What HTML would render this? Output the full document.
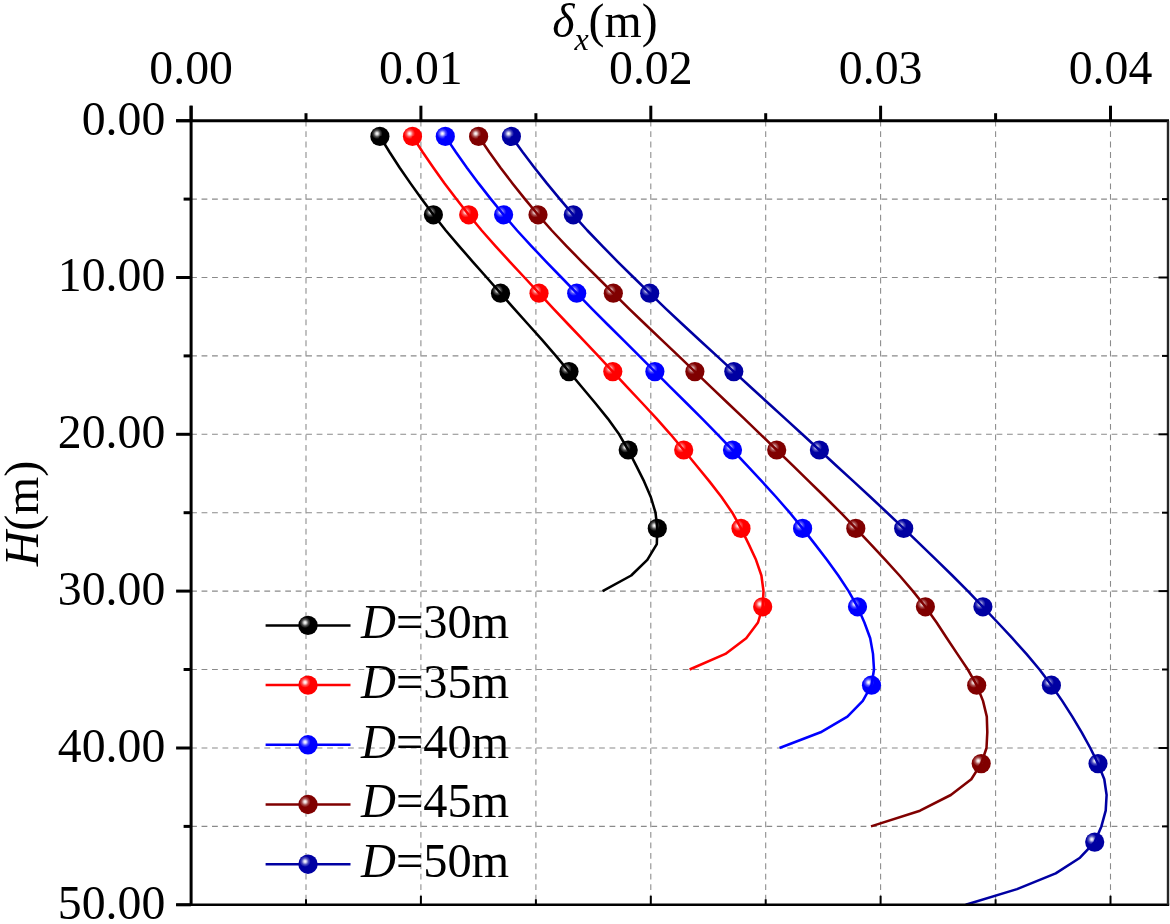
<!DOCTYPE html>
<html lang="en">
<head>
<meta charset="utf-8">
<title>Horizontal displacement versus depth</title>
<style>
html,body{margin:0;padding:0;background:#fff;}
body{width:1170px;height:924px;overflow:hidden;}
svg{display:block;}
text{font-family:"Liberation Serif",serif;fill:#000;}
.t{font-size:47.8px;}
.i{font-style:italic;}
</style>
</head>
<body>
<svg width="1170" height="924" viewBox="0 0 1170 924">
<defs>
<radialGradient id="hl" cx="0.5" cy="0.5" r="0.5"><stop offset="0" stop-color="#fff" stop-opacity="1"/><stop offset="0.22" stop-color="#fff" stop-opacity="0.85"/><stop offset="0.6" stop-color="#fff" stop-opacity="0.3"/><stop offset="1" stop-color="#fff" stop-opacity="0"/></radialGradient>
</defs>
<rect width="1170" height="924" fill="#fff"/>
<g stroke="#8c8c8c" stroke-width="1.08" stroke-dasharray="5.8 4.66" fill="none">
<line x1="306.0" y1="120.7" x2="306.0" y2="904.8"/>
<line x1="420.9" y1="120.7" x2="420.9" y2="904.8"/>
<line x1="535.9" y1="120.7" x2="535.9" y2="904.8"/>
<line x1="650.8" y1="120.7" x2="650.8" y2="904.8"/>
<line x1="765.7" y1="120.7" x2="765.7" y2="904.8"/>
<line x1="880.6" y1="120.7" x2="880.6" y2="904.8"/>
<line x1="995.6" y1="120.7" x2="995.6" y2="904.8"/>
<line x1="1110.5" y1="120.7" x2="1110.5" y2="904.8"/>
</g>
<g stroke="#8a8a8a" stroke-width="1.08" stroke-dasharray="5.8 4.66" fill="none">
<line x1="191.1" y1="199.1" x2="1168.0" y2="199.1"/>
<line x1="191.1" y1="277.5" x2="1168.0" y2="277.5"/>
<line x1="191.1" y1="355.9" x2="1168.0" y2="355.9"/>
<line x1="191.1" y1="434.3" x2="1168.0" y2="434.3"/>
<line x1="191.1" y1="512.7" x2="1168.0" y2="512.7"/>
<line x1="191.1" y1="591.1" x2="1168.0" y2="591.1"/>
<line x1="191.1" y1="669.5" x2="1168.0" y2="669.5"/>
<line x1="191.1" y1="748.0" x2="1168.0" y2="748.0"/>
<line x1="191.1" y1="826.4" x2="1168.0" y2="826.4"/>
</g>
<circle cx="379.9" cy="136.4" r="9.6" fill="#000000"/><circle cx="377.0" cy="133.6" r="5.5" fill="url(#hl)"/>
<circle cx="433.4" cy="214.8" r="9.6" fill="#000000"/><circle cx="430.5" cy="212.0" r="5.5" fill="url(#hl)"/>
<circle cx="500.5" cy="293.2" r="9.6" fill="#000000"/><circle cx="497.6" cy="290.4" r="5.5" fill="url(#hl)"/>
<circle cx="569.0" cy="371.6" r="9.6" fill="#000000"/><circle cx="566.1" cy="368.8" r="5.5" fill="url(#hl)"/>
<circle cx="628.2" cy="450.0" r="9.6" fill="#000000"/><circle cx="625.3" cy="447.2" r="5.5" fill="url(#hl)"/>
<circle cx="657.3" cy="528.4" r="9.6" fill="#000000"/><circle cx="654.4" cy="525.6" r="5.5" fill="url(#hl)"/>
<path d="M379.9 136.4 L389.5 152.0 L399.7 167.7 L410.5 183.4 L421.7 199.1 L433.4 214.8 L445.8 230.5 L459.1 246.1 L472.8 261.8 L486.7 277.5 L500.5 293.2 L514.3 308.9 L528.3 324.5 L542.3 340.2 L555.9 355.9 L569.0 371.6 L582.0 387.3 L595.2 403.0 L607.8 418.6 L619.1 434.3 L628.2 450.0 L636.2 465.7 L644.1 481.4 L650.8 497.0 L655.5 512.7 L657.3 528.4 L656.8 544.1 L647.3 559.8 L631.2 575.5 L602.6 591.1" fill="none" stroke="#000000" stroke-width="2.55" stroke-linejoin="round"/>
<circle cx="412.5" cy="136.4" r="9.6" fill="#ff0000"/><circle cx="409.6" cy="133.6" r="5.5" fill="url(#hl)"/>
<circle cx="468.7" cy="214.8" r="9.6" fill="#ff0000"/><circle cx="465.8" cy="212.0" r="5.5" fill="url(#hl)"/>
<circle cx="539.0" cy="293.2" r="9.6" fill="#ff0000"/><circle cx="536.1" cy="290.4" r="5.5" fill="url(#hl)"/>
<circle cx="612.8" cy="371.6" r="9.6" fill="#ff0000"/><circle cx="609.9" cy="368.8" r="5.5" fill="url(#hl)"/>
<circle cx="683.7" cy="450.0" r="9.6" fill="#ff0000"/><circle cx="680.8" cy="447.2" r="5.5" fill="url(#hl)"/>
<circle cx="741.0" cy="528.4" r="9.6" fill="#ff0000"/><circle cx="738.1" cy="525.6" r="5.5" fill="url(#hl)"/>
<circle cx="762.7" cy="606.8" r="9.6" fill="#ff0000"/><circle cx="759.8" cy="604.0" r="5.5" fill="url(#hl)"/>
<path d="M412.5 136.4 L422.6 152.0 L433.4 167.7 L444.6 183.4 L456.4 199.1 L468.7 214.8 L481.7 230.5 L495.5 246.1 L509.9 261.8 L524.5 277.5 L539.0 293.2 L553.6 308.9 L568.4 324.5 L583.3 340.2 L598.2 355.9 L612.8 371.6 L627.4 387.3 L642.1 403.0 L656.6 418.6 L670.5 434.3 L683.7 450.0 L696.6 465.7 L709.4 481.4 L721.5 497.0 L732.3 512.7 L741.0 528.4 L748.7 544.1 L756.0 559.8 L761.4 575.5 L763.5 591.1 L762.7 606.8 L758.0 622.5 L746.2 638.2 L725.4 653.9 L689.6 669.5" fill="none" stroke="#ff0000" stroke-width="2.55" stroke-linejoin="round"/>
<circle cx="445.3" cy="136.4" r="9.6" fill="#0000ff"/><circle cx="442.4" cy="133.6" r="5.5" fill="url(#hl)"/>
<circle cx="503.6" cy="214.8" r="9.6" fill="#0000ff"/><circle cx="500.7" cy="212.0" r="5.5" fill="url(#hl)"/>
<circle cx="576.7" cy="293.2" r="9.6" fill="#0000ff"/><circle cx="573.8" cy="290.4" r="5.5" fill="url(#hl)"/>
<circle cx="654.9" cy="371.6" r="9.6" fill="#0000ff"/><circle cx="652.0" cy="368.8" r="5.5" fill="url(#hl)"/>
<circle cx="732.5" cy="450.0" r="9.6" fill="#0000ff"/><circle cx="729.6" cy="447.2" r="5.5" fill="url(#hl)"/>
<circle cx="802.6" cy="528.4" r="9.6" fill="#0000ff"/><circle cx="799.7" cy="525.6" r="5.5" fill="url(#hl)"/>
<circle cx="857.5" cy="606.8" r="9.6" fill="#0000ff"/><circle cx="854.6" cy="604.0" r="5.5" fill="url(#hl)"/>
<circle cx="871.5" cy="685.2" r="9.6" fill="#0000ff"/><circle cx="868.6" cy="682.4" r="5.5" fill="url(#hl)"/>
<path d="M445.3 136.4 L455.8 152.0 L466.9 167.7 L478.6 183.4 L490.9 199.1 L503.6 214.8 L517.1 230.5 L531.4 246.1 L546.3 261.8 L561.5 277.5 L576.7 293.2 L592.0 308.9 L607.6 324.5 L623.4 340.2 L639.2 355.9 L654.9 371.6 L670.6 387.3 L686.4 403.0 L702.1 418.6 L717.5 434.3 L732.5 450.0 L747.2 465.7 L761.9 481.4 L776.1 497.0 L789.8 512.7 L802.6 528.4 L814.9 544.1 L826.9 559.8 L838.3 575.5 L848.6 591.1 L857.5 606.8 L864.4 622.5 L870.2 638.2 L873.0 653.9 L874.0 669.5 L871.5 685.2 L862.8 700.9 L847.4 716.6 L820.6 732.3 L779.5 748.0" fill="none" stroke="#0000ff" stroke-width="2.55" stroke-linejoin="round"/>
<circle cx="478.6" cy="136.4" r="9.6" fill="#800000"/><circle cx="475.7" cy="133.6" r="5.5" fill="url(#hl)"/>
<circle cx="538.0" cy="214.8" r="9.6" fill="#800000"/><circle cx="535.1" cy="212.0" r="5.5" fill="url(#hl)"/>
<circle cx="613.3" cy="293.2" r="9.6" fill="#800000"/><circle cx="610.4" cy="290.4" r="5.5" fill="url(#hl)"/>
<circle cx="694.9" cy="371.6" r="9.6" fill="#800000"/><circle cx="692.0" cy="368.8" r="5.5" fill="url(#hl)"/>
<circle cx="776.7" cy="450.0" r="9.6" fill="#800000"/><circle cx="773.8" cy="447.2" r="5.5" fill="url(#hl)"/>
<circle cx="855.8" cy="528.4" r="9.6" fill="#800000"/><circle cx="852.9" cy="525.6" r="5.5" fill="url(#hl)"/>
<circle cx="925.4" cy="606.8" r="9.6" fill="#800000"/><circle cx="922.5" cy="604.0" r="5.5" fill="url(#hl)"/>
<circle cx="976.7" cy="685.2" r="9.6" fill="#800000"/><circle cx="973.8" cy="682.4" r="5.5" fill="url(#hl)"/>
<circle cx="981.2" cy="763.6" r="9.6" fill="#800000"/><circle cx="978.3" cy="760.8" r="5.5" fill="url(#hl)"/>
<path d="M478.6 136.4 L489.2 152.0 L500.5 167.7 L512.5 183.4 L525.0 199.1 L538.0 214.8 L551.8 230.5 L566.5 246.1 L581.9 261.8 L597.6 277.5 L613.3 293.2 L629.2 308.9 L645.5 324.5 L661.9 340.2 L678.5 355.9 L694.9 371.6 L711.3 387.3 L727.7 403.0 L744.2 418.6 L760.5 434.3 L776.7 450.0 L792.9 465.7 L809.0 481.4 L825.0 497.0 L840.7 512.7 L855.8 528.4 L870.6 544.1 L885.3 559.8 L899.5 575.5 L912.9 591.1 L925.4 606.8 L936.6 622.5 L946.9 638.2 L957.3 653.9 L967.8 669.5 L976.7 685.2 L983.0 700.9 L986.8 716.6 L987.3 732.3 L986.5 748.0 L981.2 763.6 L971.3 779.3 L950.8 795.0 L920.0 810.7 L871.0 826.4" fill="none" stroke="#800000" stroke-width="2.55" stroke-linejoin="round"/>
<circle cx="511.4" cy="136.4" r="9.6" fill="#0000a2"/><circle cx="508.5" cy="133.6" r="5.5" fill="url(#hl)"/>
<circle cx="573.3" cy="214.8" r="9.6" fill="#0000a2"/><circle cx="570.4" cy="212.0" r="5.5" fill="url(#hl)"/>
<circle cx="649.7" cy="293.2" r="9.6" fill="#0000a2"/><circle cx="646.8" cy="290.4" r="5.5" fill="url(#hl)"/>
<circle cx="733.8" cy="371.6" r="9.6" fill="#0000a2"/><circle cx="730.9" cy="368.8" r="5.5" fill="url(#hl)"/>
<circle cx="819.4" cy="450.0" r="9.6" fill="#0000a2"/><circle cx="816.5" cy="447.2" r="5.5" fill="url(#hl)"/>
<circle cx="903.7" cy="528.4" r="9.6" fill="#0000a2"/><circle cx="900.8" cy="525.6" r="5.5" fill="url(#hl)"/>
<circle cx="982.9" cy="606.8" r="9.6" fill="#0000a2"/><circle cx="980.0" cy="604.0" r="5.5" fill="url(#hl)"/>
<circle cx="1051.4" cy="685.2" r="9.6" fill="#0000a2"/><circle cx="1048.5" cy="682.4" r="5.5" fill="url(#hl)"/>
<circle cx="1098.0" cy="763.6" r="9.6" fill="#0000a2"/><circle cx="1095.1" cy="760.8" r="5.5" fill="url(#hl)"/>
<circle cx="1094.7" cy="842.1" r="9.6" fill="#0000a2"/><circle cx="1091.8" cy="839.3" r="5.5" fill="url(#hl)"/>
<path d="M511.4 136.4 L522.6 152.0 L534.5 167.7 L546.9 183.4 L559.9 199.1 L573.3 214.8 L587.4 230.5 L602.4 246.1 L617.8 261.8 L633.7 277.5 L649.7 293.2 L666.0 308.9 L682.7 324.5 L699.7 340.2 L716.8 355.9 L733.8 371.6 L750.8 387.3 L768.0 403.0 L785.2 418.6 L802.3 434.3 L819.4 450.0 L836.4 465.7 L853.5 481.4 L870.4 497.0 L887.2 512.7 L903.7 528.4 L920.0 544.1 L936.3 559.8 L952.3 575.5 L967.9 591.1 L982.9 606.8 L997.7 622.5 L1012.3 638.2 L1026.4 653.9 L1039.5 669.5 L1051.4 685.2 L1062.2 700.9 L1072.3 716.6 L1081.7 732.3 L1090.3 748.0 L1098.0 763.6 L1104.3 779.3 L1106.6 795.0 L1105.7 810.7 L1101.4 826.4 L1094.7 842.1 L1080.0 857.7 L1055.7 873.4 L1017.0 889.1 L965.7 904.8" fill="none" stroke="#0000a2" stroke-width="2.55" stroke-linejoin="round"/>
<g stroke="#000" fill="none">
<line x1="176.1" y1="120.7" x2="1169.0" y2="120.7" stroke-width="3"/>
<line x1="191.1" y1="105.7" x2="191.1" y2="905.8" stroke-width="3"/>
<line x1="176.1" y1="904.8" x2="1169.2" y2="904.8" stroke-width="2.5"/>
<line x1="1168.0" y1="120.7" x2="1168.0" y2="904.8" stroke-width="2.4" stroke="#262626"/>
<line x1="191.1" y1="105.7" x2="191.1" y2="120.7" stroke-width="3"/>
<line x1="306.0" y1="113.2" x2="306.0" y2="120.7" stroke-width="3"/>
<line x1="306.0" y1="899.3" x2="306.0" y2="904.8" stroke-width="2"/>
<line x1="420.9" y1="105.7" x2="420.9" y2="120.7" stroke-width="3"/>
<line x1="420.9" y1="895.8" x2="420.9" y2="904.8" stroke-width="2"/>
<line x1="535.9" y1="113.2" x2="535.9" y2="120.7" stroke-width="3"/>
<line x1="535.9" y1="899.3" x2="535.9" y2="904.8" stroke-width="2"/>
<line x1="650.8" y1="105.7" x2="650.8" y2="120.7" stroke-width="3"/>
<line x1="650.8" y1="895.8" x2="650.8" y2="904.8" stroke-width="2"/>
<line x1="765.7" y1="113.2" x2="765.7" y2="120.7" stroke-width="3"/>
<line x1="765.7" y1="899.3" x2="765.7" y2="904.8" stroke-width="2"/>
<line x1="880.6" y1="105.7" x2="880.6" y2="120.7" stroke-width="3"/>
<line x1="880.6" y1="895.8" x2="880.6" y2="904.8" stroke-width="2"/>
<line x1="995.6" y1="113.2" x2="995.6" y2="120.7" stroke-width="3"/>
<line x1="995.6" y1="899.3" x2="995.6" y2="904.8" stroke-width="2"/>
<line x1="1110.5" y1="105.7" x2="1110.5" y2="120.7" stroke-width="3"/>
<line x1="1110.5" y1="895.8" x2="1110.5" y2="904.8" stroke-width="2"/>
<line x1="176.1" y1="120.7" x2="191.1" y2="120.7" stroke-width="3"/>
<line x1="183.6" y1="199.1" x2="191.1" y2="199.1" stroke-width="3"/>
<line x1="1162.0" y1="199.1" x2="1168.0" y2="199.1" stroke-width="2"/>
<line x1="176.1" y1="277.5" x2="191.1" y2="277.5" stroke-width="3"/>
<line x1="1158.5" y1="277.5" x2="1168.0" y2="277.5" stroke-width="2"/>
<line x1="183.6" y1="355.9" x2="191.1" y2="355.9" stroke-width="3"/>
<line x1="1162.0" y1="355.9" x2="1168.0" y2="355.9" stroke-width="2"/>
<line x1="176.1" y1="434.3" x2="191.1" y2="434.3" stroke-width="3"/>
<line x1="1158.5" y1="434.3" x2="1168.0" y2="434.3" stroke-width="2"/>
<line x1="183.6" y1="512.7" x2="191.1" y2="512.7" stroke-width="3"/>
<line x1="1162.0" y1="512.7" x2="1168.0" y2="512.7" stroke-width="2"/>
<line x1="176.1" y1="591.1" x2="191.1" y2="591.1" stroke-width="3"/>
<line x1="1158.5" y1="591.1" x2="1168.0" y2="591.1" stroke-width="2"/>
<line x1="183.6" y1="669.5" x2="191.1" y2="669.5" stroke-width="3"/>
<line x1="1162.0" y1="669.5" x2="1168.0" y2="669.5" stroke-width="2"/>
<line x1="176.1" y1="748.0" x2="191.1" y2="748.0" stroke-width="3"/>
<line x1="1158.5" y1="748.0" x2="1168.0" y2="748.0" stroke-width="2"/>
<line x1="183.6" y1="826.4" x2="191.1" y2="826.4" stroke-width="3"/>
<line x1="1162.0" y1="826.4" x2="1168.0" y2="826.4" stroke-width="2"/>
<line x1="176.1" y1="904.8" x2="191.1" y2="904.8" stroke-width="3"/>
</g>
<text class="t" transform="translate(191.1 84.2) scale(1 1.035)" text-anchor="middle">0.00</text>
<text class="t" transform="translate(420.9 84.2) scale(1 1.035)" text-anchor="middle">0.01</text>
<text class="t" transform="translate(650.8 84.2) scale(1 1.035)" text-anchor="middle">0.02</text>
<text class="t" transform="translate(880.6 84.2) scale(1 1.035)" text-anchor="middle">0.03</text>
<text class="t" transform="translate(1110.5 84.2) scale(1 1.035)" text-anchor="middle">0.04</text>
<text class="t" transform="translate(165.3 134.6) scale(1 1.035)" text-anchor="end">0.00</text>
<text class="t" transform="translate(165.3 291.4) scale(1 1.035)" text-anchor="end">10.00</text>
<text class="t" transform="translate(165.3 448.2) scale(1 1.035)" text-anchor="end">20.00</text>
<text class="t" transform="translate(165.3 605.0) scale(1 1.035)" text-anchor="end">30.00</text>
<text class="t" transform="translate(165.3 761.9) scale(1 1.035)" text-anchor="end">40.00</text>
<text class="t" transform="translate(165.3 918.7) scale(1 1.035)" text-anchor="end">50.00</text>
<text class="t" transform="translate(552.2 37)"><tspan class="i">δ</tspan><tspan class="i" font-size="32" dy="12.5">x</tspan><tspan dy="-12.5">(m)</tspan></text>
<text class="t" transform="translate(38 566.2) rotate(-90) scale(1.02 1)"><tspan class="i">H</tspan>(m)</text>
<line x1="265.6" y1="625.4" x2="350.5" y2="625.4" stroke="#000000" stroke-width="2.5"/>
<circle cx="308.0" cy="625.4" r="9.7" fill="#000000"/><circle cx="305.1" cy="622.6" r="5.5" fill="url(#hl)"/>
<text class="t" transform="translate(361 638.2) scale(1.012 1.03)"><tspan class="i">D</tspan>=30m</text>
<line x1="265.6" y1="685.1" x2="350.5" y2="685.1" stroke="#ff0000" stroke-width="2.5"/>
<circle cx="308.0" cy="685.1" r="9.7" fill="#ff0000"/><circle cx="305.1" cy="682.3" r="5.5" fill="url(#hl)"/>
<text class="t" transform="translate(361 697.9) scale(1.012 1.03)"><tspan class="i">D</tspan>=35m</text>
<line x1="265.6" y1="744.8" x2="350.5" y2="744.8" stroke="#0000ff" stroke-width="2.5"/>
<circle cx="308.0" cy="744.8" r="9.7" fill="#0000ff"/><circle cx="305.1" cy="742.0" r="5.5" fill="url(#hl)"/>
<text class="t" transform="translate(361 757.6) scale(1.012 1.03)"><tspan class="i">D</tspan>=40m</text>
<line x1="265.6" y1="804.5" x2="350.5" y2="804.5" stroke="#800000" stroke-width="2.5"/>
<circle cx="308.0" cy="804.5" r="9.7" fill="#800000"/><circle cx="305.1" cy="801.7" r="5.5" fill="url(#hl)"/>
<text class="t" transform="translate(361 817.3) scale(1.012 1.03)"><tspan class="i">D</tspan>=45m</text>
<line x1="265.6" y1="864.2" x2="350.5" y2="864.2" stroke="#0000a2" stroke-width="2.5"/>
<circle cx="308.0" cy="864.2" r="9.7" fill="#0000a2"/><circle cx="305.1" cy="861.4" r="5.5" fill="url(#hl)"/>
<text class="t" transform="translate(361 877.0) scale(1.012 1.03)"><tspan class="i">D</tspan>=50m</text>
</svg>
</body>
</html>
